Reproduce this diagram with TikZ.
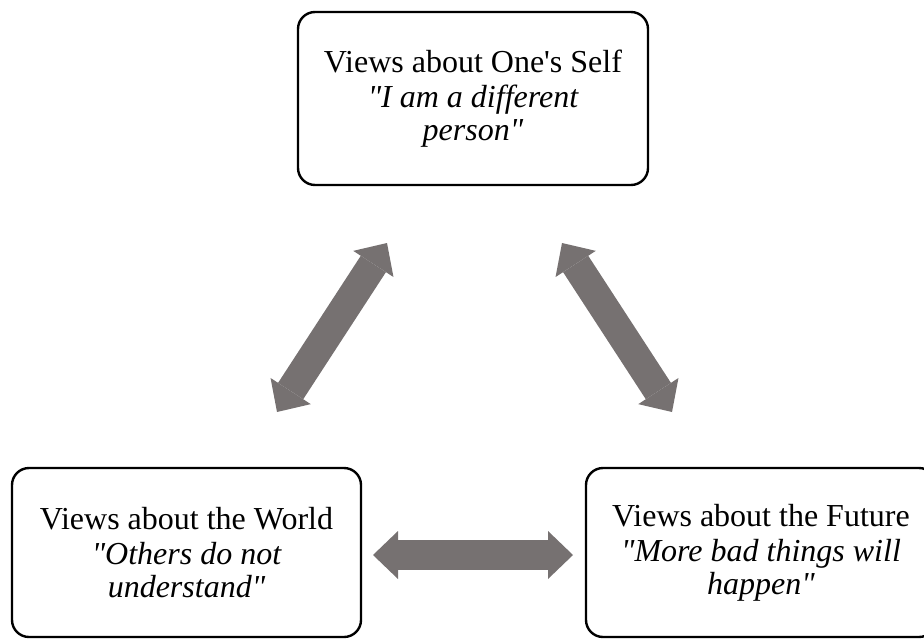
\documentclass[tikz,border=0pt]{standalone}
\usepackage{fontspec}
\setmainfont{Liberation Serif}[Ligatures=TeXOff]
\usetikzlibrary{arrows.meta}
\definecolor{arrowgray}{HTML}{767171}
\tikzstyle{viewbox} = [draw=black, line width=1.2pt, rectangle, rounded corners=8.5pt, align=center, inner sep=0pt, font=\fontsize{16}{16.5}\selectfont]
\tikzstyle{twoway} = [draw=arrowgray, line width=15pt, >={Triangle[width=24pt,length=12.5pt,line width=0pt]}, <->]

\begin{document}
\begin{tikzpicture}[x=0.5pt,y=0.5pt]
		\useasboundingbox (0,0) rectangle (924,638);
		% the three views
		\node[viewbox, minimum width=175pt, minimum height=86.5pt](self) at (473,539.5){
			Views about One's Self\\[1pt]
			{\itshape "I am a different}\\
			{\itshape person"}};
		\node[viewbox, minimum width=174.5pt, minimum height=84.5pt](world) at (186.5,85.5){
			Views about the World\\[1pt]
			{\itshape "Others do not}\\
			{\itshape understand"}};
		\node[viewbox, minimum width=175pt, minimum height=84.5pt](future) at (761,85.5){
			Views about the Future\\[1pt]
			{\itshape "More bad things will}\\
			{\itshape happen"}};
		% arrow ends
		\coordinate (sw-top) at (387,395);
		\coordinate (sw-bot) at (277,226);
		\coordinate (sf-top) at (562,395);
		\coordinate (sf-bot) at (672,226);
		\coordinate (wf-left) at (373,83);
		\coordinate (wf-right) at (573,83);
		\draw[twoway] (sw-top) -- (sw-bot);
		\draw[twoway] (sf-top) -- (sf-bot);
		\draw[twoway] (wf-left) -- (wf-right);
	\end{tikzpicture}
\end{document}
